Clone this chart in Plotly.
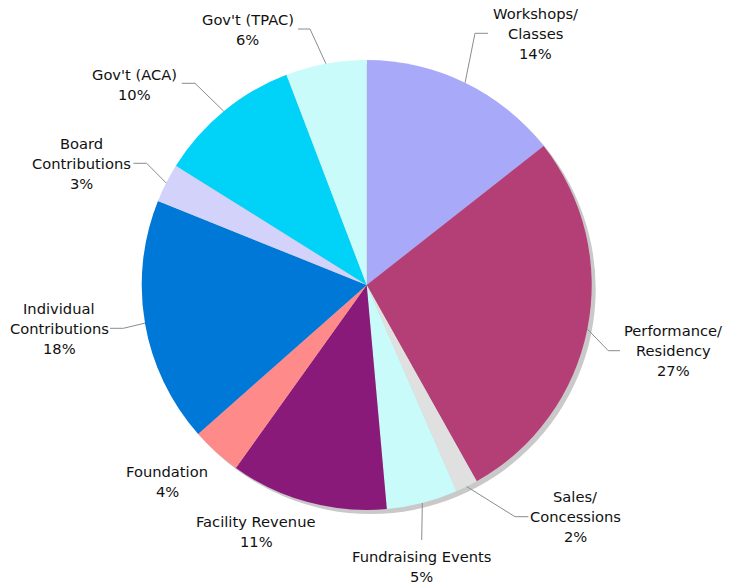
import math
import plotly.graph_objects as go

# ---- data ----
categories = ["Workshops/\nClasses", "Performance/\nResidency", "Sales/\nConcessions",
              "Fundraising Events", "Facility Revenue", "Foundation",
              "Individual\nContributions", "Board\nContributions", "Gov't (ACA)", "Gov't (TPAC)"]
values = [14.4, 27.45, 1.6, 5.1, 11.3, 3.6, 17.6, 2.8, 10.3, 5.8]
colors = ["#A9A9FA", "#B43E76", "#E0E0E0", "#CAFBFB", "#8A1A7A",
          "#FF8A8A", "#0078D7", "#D2D2FA", "#00D2F8", "#CAFBFB"]

# ---- layout constants (pixels) ----
W, H = 730, 585
CX, CY, R = 366.7, 285.0, 225.0
SHADOW = 4
LINE_H = 20
FONT = dict(family="DejaVu Sans, Verdana, sans-serif", size=14.7, color="#111111")
LEADER = "#8C8C8C"

# label placement: text center x, first-line y, leader elbow, leader end (pixels)
label_layout = {
    0: dict(cx=535, y0=13.5, elbow=(475, 33.3), end=(488, 33.3)),
    1: dict(cx=673, y0=330, elbow=(608.3, 350.7), end=(620, 350.7)),
    2: dict(cx=575, y0=496.7, elbow=(515, 516.7), end=(528.3, 516.7)),
    3: dict(cx=421, y0=556.7, elbow=(421.7, 540), end=(421.7, 540)),
    4: dict(cx=256, y0=521.7, elbow=None, end=None),
    5: dict(cx=167, y0=471.7, elbow=None, end=None),
    6: dict(cx=59, y0=308.3, elbow=(123.3, 328.3), end=(110, 328.3)),
    7: dict(cx=81, y0=143.3, elbow=(146.7, 163.3), end=(133.3, 163.3)),
    8: dict(cx=134, y0=74.5, elbow=(195, 83.3), end=(181.7, 83.3)),
    9: dict(cx=247.5, y0=19.5, elbow=(310, 29), end=(298, 29)),
}


def px(x):
    return x / W


def py(y):
    return 1 - y / H


total = sum(values)

fig = go.Figure()
# drop shadow
fig.add_trace(go.Pie(
    values=[1], labels=["shadow"], marker=dict(colors=["#C9C9C9"], line=dict(width=0)),
    textinfo="none", hoverinfo="skip", showlegend=False, sort=False,
    domain=dict(x=[px(CX - R + SHADOW), px(CX + R + SHADOW)],
                y=[py(CY + R + SHADOW), py(CY - R + SHADOW)]),
))
fig.add_trace(go.Pie(
    labels=[c.replace("\n", " ") for c in categories], values=values,
    marker=dict(colors=colors, line=dict(width=0)),
    sort=False, direction="clockwise", rotation=0,
    textinfo="none", showlegend=False,
    domain=dict(x=[px(CX - R), px(CX + R)], y=[py(CY + R), py(CY - R)]),
))

annotations = []
shapes = []
cum = 0.0
for i, (cat, v) in enumerate(zip(categories, values)):
    mid = (cum + v / 2) / total * 2 * math.pi
    cum += v
    lay = label_layout[i]
    lines = cat.split("\n") + [f"{round(v / total * 100)}%"]
    for k, t in enumerate(lines):
        annotations.append(dict(
            x=px(lay["cx"]), y=py(lay["y0"] + k * LINE_H), xref="paper", yref="paper",
            text=t, showarrow=False, xanchor="center", yanchor="middle", font=FONT,
        ))
    if lay["elbow"] is not None:
        sx = CX + R * math.sin(mid)
        sy = CY - R * math.cos(mid)
        ex, ey = lay["elbow"]
        fx, fy = lay["end"]
        path = f"M {px(sx)} {py(sy)} L {px(ex)} {py(ey)} L {px(fx)} {py(fy)}"
        shapes.append(dict(type="path", path=path, xref="paper", yref="paper",
                           line=dict(color=LEADER, width=1)))

fig.update_layout(
    width=W, height=H, autosize=False,
    margin=dict(l=0, r=0, t=0, b=0),
    paper_bgcolor="white", plot_bgcolor="white",
    annotations=annotations, shapes=shapes,
)
fig.write_html("out.html", config={"displayModeBar": False},
               post_script="document.body.style.margin='0';document.body.style.padding='0';")
